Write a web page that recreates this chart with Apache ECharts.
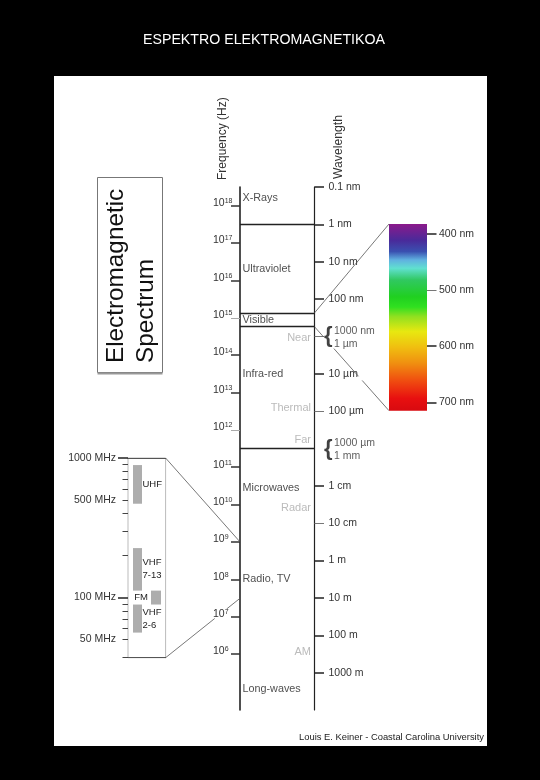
<!DOCTYPE html>
<html>
<head>
<meta charset="utf-8">
<title>Espektro elektromagnetikoa</title>
<style>
  html, body { margin: 0; background: #000; }
  #chart { width: 540px; height: 780px; }
</style>
<script src="https://cdn.jsdelivr.net/npm/echarts@6/dist/echarts.min.js"></script>
</head>
<body>
<div id="chart"></div>
<script>
// frequency axis, log10(Hz)
const freqStrong = [18, 17, 16, 14, 13, 11, 10, 9, 8, 7, 6]
const freqFaint = [15, 12]
const bandEdges = [17.5, 15.13, 14.76, 11.5]

// wavelength axis, log10(m)
const waveStrong = [-10, -9, -8, -7, -5, -2, 0, 1, 2, 3]
const waveFaint = [-4, -1, -6]
const waveLabels = {
  '-10': '0.1 nm', '-9': '1 nm', '-8': '10 nm', '-7': '100 nm', '-5': '10 µm',
  '-4': '100 µm', '-2': '1 cm', '-1': '10 cm', '0': '1 m', '1': '10 m', '2': '100 m', '3': '1000 m'
}
const braceValues = [-6, -3]
const braceTexts = ['1000 nm\n1 µm', '1000 µm\n1 mm']

// named regions, placed by log10(Hz)
const regionNames = ['X-Rays', 'Ultraviolet', 'Visible', 'Infra-red', 'Microwaves', 'Radio, TV', 'Long-waves']
const regionFreq = [18.2, 16.3, 14.94, 13.5, 10.44, 8, 5.05]
const subNames = ['Near', 'Thermal', 'Far', 'Radar', 'AM']
const subFreq = [14.45, 12.58, 11.74, 9.9, 6.05]

// broadcast inset, MHz
const mhzMajor = [1000, 100]
const mhzMinor = [900, 800, 700, 600, 500, 400, 300, 200, 90, 80, 70, 60, 50, 37]
const mhzLabels = [1000, 500, 100, 50]
const stationNames = ['UHF', 'VHF\n7-13', 'FM', 'VHF\n2-6']
const stationLow = [470, 112, 89, 56]
const stationHigh = [890, 226, 112, 89]

// visible spectrum, nm
const visibleStrong = [400, 600, 700]
const visibleFaint = [500]
const visibleStops = [382, 411, 431, 446, 461, 482, 512, 530, 547, 574, 601, 630, 660, 693, 715]
const visibleColors = ['#8b1a8b', '#4a2a9a', '#3a50b0', '#60b0e0', '#60e0d0', '#30c860', '#20d020', '#30e020',
  '#90e020', '#e8e810', '#f0c010', '#f09010', '#f05010', '#e81010', '#d80a10']

const FONT = '"Liberation Sans", Arial, sans-serif'
const TEXT = '#333'

const main = { left: 240, top: 187, width: 74.5, height: 523 }
const inset = { left: 128, top: 458, width: 37.6, height: 199.7 }
const visible = { left: 389, top: 224, width: 38, height: 186.7 }

const log10 = v => Math.log10(v)

function tickAxis (opts) {
  return Object.assign({
    type: 'value',
    splitLine: { show: false },
    axisLine: { show: false, onZero: false },
    axisTick: { show: false },
    axisLabel: { show: false }
  }, opts)
}

function ticks (values, length, color, width) {
  return { show: true, customValues: values, length: length, lineStyle: { color: color, width: width } }
}

function hiddenX (gridIndex) {
  return { type: 'value', gridIndex: gridIndex, min: 0, max: 1, show: false }
}

function labelSeries (names, values, yAxisIndex, label) {
  return {
    type: 'scatter',
    xAxisIndex: 0,
    yAxisIndex: yAxisIndex,
    symbolSize: 1,
    silent: true,
    clip: false,
    itemStyle: { color: 'transparent' },
    data: names.map((name, i) => ({ name: name, value: [label.anchor, values[i]] })),
    label: Object.assign({
      show: true,
      formatter: p => p.name,
      fontFamily: FONT,
      fontSize: 10.8
    }, label.style)
  }
}

const freqLabelStyle = {
  show: true,
  margin: 27,
  align: 'left',
  padding: [0, 0, 5, 0],
  fontFamily: FONT,
  formatter: v => '{b|10}{s|' + v + '}',
  rich: {
    b: { fontSize: 10.5, color: TEXT, fontFamily: FONT },
    s: { fontSize: 7, color: TEXT, fontFamily: FONT, verticalAlign: 'top', padding: [0, 0, 3, 0] }
  }
}

function waveLabelStyle (values) {
  return {
    show: true,
    customValues: values,
    margin: 14,
    color: TEXT,
    fontFamily: FONT,
    fontSize: 10.5,
    formatter: v => waveLabels[v] || ''
  }
}

function mhzY (extra) {
  return tickAxis(Object.assign({ gridIndex: 1, min: log10(37), max: 3, position: 'left' }, extra))
}

function visibleY (extra) {
  return tickAxis(Object.assign({ gridIndex: 2, min: 382, max: 715, inverse: true, position: 'right' }, extra))
}

const visibleLabel = {
  show: true,
  margin: 12,
  color: TEXT,
  fontFamily: FONT,
  fontSize: 10.5,
  formatter: v => v + ' nm'
}

const option = {
  backgroundColor: '#000',
  animation: false,
  title: {
    text: 'ESPEKTRO ELEKTROMAGNETIKOA',
    left: 138,
    top: 28.5,
    textStyle: { color: '#fff', fontFamily: FONT, fontSize: 14.2, fontWeight: 'normal' }
  },
  grid: [
    Object.assign({ containLabel: false }, main),
    Object.assign({ show: true, borderColor: '#bbb', borderWidth: 1, backgroundColor: '#fff' }, inset),
    Object.assign({}, visible)
  ],
  xAxis: [
    hiddenX(0),
    {
      type: 'value', gridIndex: 1, min: 0, max: 1, position: 'top',
      axisLine: { show: true, onZero: false, lineStyle: { color: '#555', width: 1 } },
      axisTick: { show: false }, axisLabel: { show: false }, splitLine: { show: false }
    },
    {
      type: 'value', gridIndex: 1, min: 0, max: 1, position: 'bottom',
      axisLine: { show: true, onZero: false, lineStyle: { color: '#555', width: 1 } },
      axisTick: { show: false }, axisLabel: { show: false }, splitLine: { show: false }
    },
    hiddenX(2)
  ],
  yAxis: [
    // 0, 1 frequency
    tickAxis({
      gridIndex: 0, min: 4.5, max: 18.5, position: 'left',
      axisLine: { show: true, onZero: false, lineStyle: { color: '#222', width: 1.6 } },
      axisTick: ticks(freqStrong, 9, '#333', 1.5),
      axisLabel: Object.assign({ customValues: freqStrong }, freqLabelStyle)
    }),
    tickAxis({
      gridIndex: 0, min: 4.5, max: 18.5, position: 'left',
      axisTick: ticks(freqFaint, 9, '#aaa', 1),
      axisLabel: Object.assign({ customValues: freqFaint }, freqLabelStyle)
    }),
    // 2, 3 wavelength
    tickAxis({
      gridIndex: 0, min: -10, max: 4, inverse: true, position: 'right',
      axisLine: { show: true, onZero: false, lineStyle: { color: '#222', width: 1.2 } },
      axisTick: ticks(waveStrong, 9.5, '#222', 1.5),
      axisLabel: waveLabelStyle(waveStrong)
    }),
    tickAxis({
      gridIndex: 0, min: -10, max: 4, inverse: true, position: 'right',
      axisTick: ticks(waveFaint, 9.5, '#777', 1),
      axisLabel: waveLabelStyle([-4, -1])
    }),
    // 4, 5 inset MHz
    mhzY({
      axisTick: ticks(mhzMinor.map(log10), 5.5, '#444', 1),
      axisLabel: {
        show: true,
        customValues: mhzLabels.map(log10),
        margin: 12,
        color: TEXT,
        fontFamily: FONT,
        fontSize: 10.5,
        formatter: v => Math.round(Math.pow(10, v)) + ' MHz'
      }
    }),
    mhzY({ axisTick: ticks(mhzMajor.map(log10), 10, '#222', 1.5) }),
    // 6, 7 visible nm
    visibleY({ axisTick: ticks(visibleStrong, 9.5, '#222', 1.5), axisLabel: Object.assign({ customValues: visibleStrong }, visibleLabel) }),
    visibleY({ axisTick: ticks(visibleFaint, 9.5, '#777', 1), axisLabel: Object.assign({ customValues: visibleFaint }, visibleLabel) })
  ],
  series: [
    {
      // band edges across the main ladder
      type: 'line',
      xAxisIndex: 0,
      yAxisIndex: 0,
      data: [],
      silent: true,
      markLine: {
        silent: true,
        animation: false,
        symbol: 'none',
        label: { show: false },
        lineStyle: { color: '#222', width: 1.3, type: 'solid' },
        data: bandEdges.map(v => ({ yAxis: v }))
      }
    },
    labelSeries(regionNames, regionFreq, 0, {
      anchor: 0,
      style: { position: 'right', distance: 2, color: '#222' }
    }),
    labelSeries(subNames, subFreq, 0, {
      anchor: 1,
      style: { position: 'left', distance: 3, color: '#aaa', fontSize: 11 }
    }),
    labelSeries(braceTexts, braceValues, 2, {
      anchor: 1,
      style: { position: 'right', distance: 19, offset: [0, 1], color: TEXT, fontSize: 10.5, lineHeight: 13, align: 'left' }
    }),
    labelSeries(['{', '{'], braceValues, 2, {
      anchor: 1,
      style: { position: 'right', distance: 9, color: '#111', fontSize: 22, fontWeight: 'bold', fontFamily: FONT }
    }),
    {
      type: 'custom',
      xAxisIndex: 1,
      yAxisIndex: 4,
      silent: true,
      clip: false,
      z: 3,
      data: stationNames.map((name, i) => [i, log10(stationLow[i]), log10(stationHigh[i])]),
      renderItem: function (params, api) {
        const i = api.value(0)
        const isFM = stationNames[i] === 'FM'
        const top = api.coord([0, api.value(2)])
        const bottom = api.coord([0, api.value(1)])
        const x = top[0] + (isFM ? 23 : 5)
        const w = isFM ? 10 : 9
        return {
          type: 'group',
          children: [
            {
              type: 'rect',
              shape: { x: x, y: top[1], width: w, height: bottom[1] - top[1] },
              style: { fill: '#adadad' }
            },
            {
              type: 'text',
              z2: 5,
              style: {
                text: stationNames[i],
                x: isFM ? x - 3 : x + w + 0.5,
                y: (top[1] + bottom[1]) / 2,
                align: isFM ? 'right' : 'left',
                verticalAlign: 'middle',
                lineHeight: 13,
                font: '9.5px ' + FONT,
                fill: '#222'
              }
            }
          ]
        }
      }
    },
    {
      type: 'custom',
      xAxisIndex: 3,
      yAxisIndex: 6,
      silent: true,
      data: [[visibleStops[0], visibleStops[visibleStops.length - 1]]],
      renderItem: function (params, api) {
        const a = api.coord([0, api.value(0)])
        const b = api.coord([1, api.value(1)])
        const span = api.value(1) - api.value(0)
        return {
          type: 'rect',
          shape: { x: a[0], y: a[1], width: b[0] - a[0], height: b[1] - a[1] },
          style: {
            fill: {
              type: 'linear', x: 0, y: 0, x2: 0, y2: 1,
              colorStops: visibleStops.map((nm, i) => ({
                offset: (nm - visibleStops[0]) / span,
                color: visibleColors[i]
              }))
            }
          }
        }
      }
    }
  ]
}

const chart = echarts.init(document.getElementById('chart'))
chart.setOption(option)

function y (axis, value) {
  return chart.convertToPixel({ yAxisIndex: axis }, value)
}

// thin connector, drawn only over the given parts of its length
function connector (x1, y1, x2, y2, parts) {
  return parts.map(p => ({
    type: 'line',
    z: 5,
    silent: true,
    shape: {
      x1: x1 + (x2 - x1) * p[0],
      y1: y1 + (y2 - y1) * p[0],
      x2: x1 + (x2 - x1) * p[1],
      y2: y1 + (y2 - y1) * p[1]
    },
    style: { stroke: '#555', lineWidth: 0.8 }
  }))
}

function staticText (text, x, y, font, rotation, fill) {
  return {
    type: 'text',
    x: x,
    y: y,
    rotation: rotation,
    silent: true,
    style: { text: text, x: 0, y: 0, font: font + ' ' + FONT, fill: fill, align: 'left', verticalAlign: 'middle' }
  }
}

const mainRight = main.left + main.width
const insetRight = inset.left + inset.width
const UP = Math.PI / 2

chart.setOption({
  graphic: [
    { type: 'rect', z: -10, silent: true, shape: { x: 54, y: 76, width: 433, height: 670 }, style: { fill: '#fff' } },
    { type: 'rect', z: -9, silent: true, shape: { x: 97.5, y: 177.5, width: 65, height: 195 }, style: { fill: '#fff', stroke: '#777', lineWidth: 1 } },
    { type: 'line', z: -8, silent: true, shape: { x1: 97.5, y1: 373.5, x2: 162.5, y2: 373.5 }, style: { stroke: '#999', lineWidth: 2 } },
    staticText('Electromagnetic', 116.5, 363, '24.3px', UP, '#111'),
    staticText('Spectrum', 146, 363, '24.3px', UP, '#111'),
    staticText('Frequency (Hz)', 223, 180, '12px', UP, TEXT),
    staticText('Wavelength', 339, 179, '12.2px', UP, TEXT),
    staticText('Louis E. Keiner - Coastal Carolina University', 299, 737, '9.4px', 0, '#222')
  ].concat(
    connector(mainRight, y(0, bandEdges[1]), visible.left, y(6, 382), [[0, 1]]),
    connector(mainRight, y(0, bandEdges[2]), visible.left, y(6, 715), [[0, 0.12], [0.26, 0.59], [0.64, 1]]),
    connector(insetRight, y(4, 3), main.left, y(0, 9), [[0, 1]]),
    connector(insetRight, y(4, log10(37)), main.left, y(0, 7.49), [[0, 0.66], [0.82, 1]])
  )
})
</script>
</body>
</html>
